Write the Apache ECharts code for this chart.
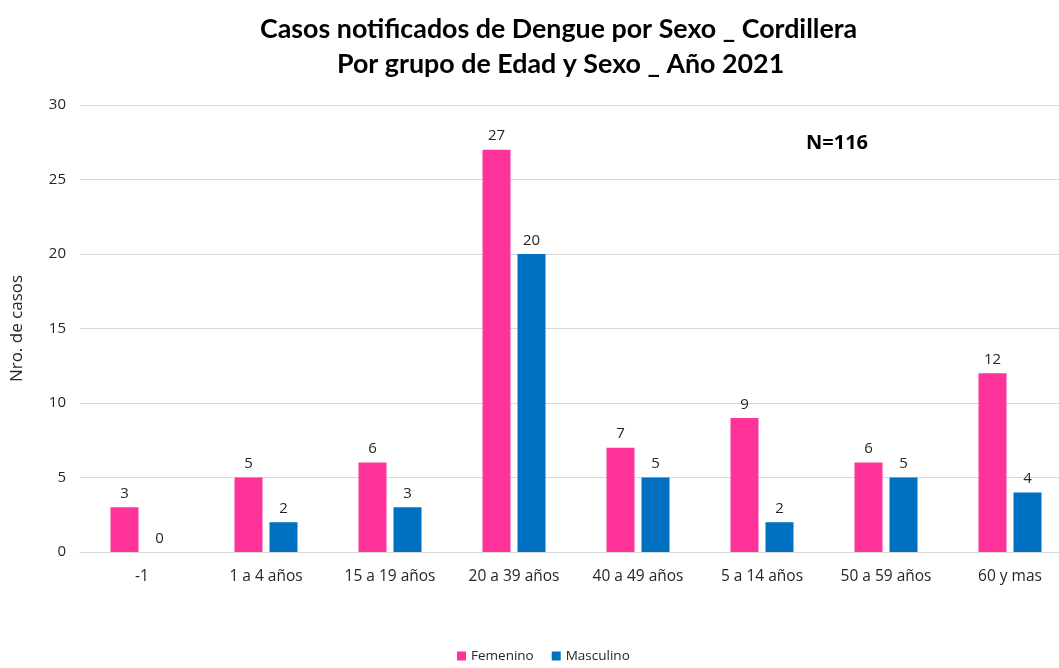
<!DOCTYPE html>
<html>
<head>
<meta charset="utf-8">
<script src="https://cdn.jsdelivr.net/npm/echarts@6/dist/echarts.min.js"></script>
<style>
  html, body { margin: 0; padding: 0; background: #fff; overflow: hidden; }
  #chart-container { width: 1072px; height: 668px; }
</style>
</head>
<body>
<div id="chart-container"></div>
<script>
var categories = ['-1', '1 a 4 años', '15 a 19 años', '20 a 39 años', '40 a 49 años', '5 a 14 años', '50 a 59 años', '60 y mas'];
var femenino = [3, 5, 6, 27, 7, 9, 6, 12];
var masculino = [0, 2, 3, 20, 5, 2, 5, 4];
var yTicks = [0, 5, 10, 15, 20, 25, 30];

var dom = document.getElementById('chart-container');
var myChart = echarts.init(dom, null, { renderer: 'canvas' });

var font = '"Open Sans", "Noto Sans", sans-serif';

var labelStyle = {
    show: true,
    position: 'top',
    distance: 6,
    color: '#262626',
    fontSize: 15,
    fontFamily: font
};

var titleStyle = {
    fontFamily: 'Lato, sans-serif',
    fontWeight: 'bold',
    fontSize: 26.8,
    color: '#000'
};

var option = {
    animation: false,
    title: [
        {
            text: 'Casos notificados de Dengue por Sexo _ Cordillera',
            left: 255,
            top: 11,
            textStyle: titleStyle
        },
        {
            text: 'Por grupo de Edad y Sexo _ Año 2021',
            left: 332,
            top: 46,
            textStyle: titleStyle
        },
        {
            text: 'N=116',
            left: 801,
            top: 128,
            textStyle: {
                fontFamily: font,
                fontWeight: 'bold',
                fontSize: 20,
                color: '#000'
            }
        }
    ],
    legend: {
        bottom: 0,
        left: 452,
        itemWidth: 9,
        itemHeight: 9,
        itemGap: 18,
        icon: 'rect',
        textStyle: { fontFamily: font, fontSize: 13.5, color: '#262626' },
        data: ['Femenino', 'Masculino']
    },
    grid: {
        left: 80,
        top: 105,
        right: 0,
        height: 447
    },
    xAxis: {
        type: 'category',
        data: categories,
        axisTick: { show: false },
        axisLine: { lineStyle: { color: '#d9d9d9' } },
        axisLabel: {
            color: '#262626',
            fontSize: 15.5,
            fontFamily: font,
            margin: 17
        }
    },
    yAxis: {
        type: 'value',
        min: yTicks[0],
        max: yTicks[yTicks.length - 1],
        interval: 5,
        name: 'Nro. de casos',
        nameLocation: 'middle',
        nameGap: 54,
        nameTextStyle: { fontFamily: font, fontSize: 17, color: '#262626' },
        axisLine: { show: false },
        axisTick: { show: false },
        splitLine: { lineStyle: { color: '#d9d9d9' } },
        axisLabel: {
            color: '#262626',
            fontSize: 15,
            fontFamily: font,
            margin: 14
        }
    },
    series: [
        {
            name: 'Femenino',
            type: 'bar',
            data: femenino,
            barWidth: 28,
            barGap: '25%',
            itemStyle: { color: '#FF3399' },
            label: labelStyle
        },
        {
            name: 'Masculino',
            type: 'bar',
            data: masculino,
            barWidth: 28,
            itemStyle: { color: '#0070C0' },
            label: labelStyle
        }
    ]
};

myChart.setOption(option);
window.addEventListener('resize', myChart.resize);
</script>
</body>
</html>
